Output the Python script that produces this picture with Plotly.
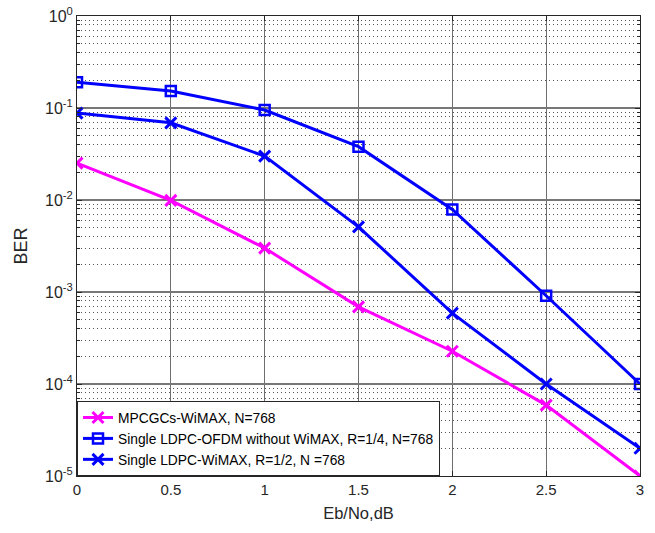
import plotly.graph_objects as go

ebno = [0, 0.5, 1, 1.5, 2, 2.5, 3]
ber_mpcgc = [0.0252, 0.0099, 0.0030, 0.00069, 0.000227, 0.000059, 0.00001]
ber_ofdm = [0.19, 0.153, 0.095, 0.038, 0.0079, 0.00091, 0.0001]
ber_ldpc = [0.088, 0.069, 0.030, 0.0051, 0.00059, 0.0001, 0.00002]

x_ticks = [0, 0.5, 1, 1.5, 2, 2.5, 3]
x_ticktext = ["0", "0.5", "1", "1.5", "2", "2.5", "3"]
y_ticks = [1e-5, 1e-4, 1e-3, 1e-2, 1e-1, 1]
y_ticktext = ["10<sup>-5</sup>", "10<sup>-4</sup>", "10<sup>-3</sup>",
              "10<sup>-2</sup>", "10<sup>-1</sup>", "10<sup>0</sup>"]

names = ["MPCGCs-WiMAX, N=768",
         "Single LDPC-OFDM without WiMAX, R=1/4, N=768",
         "Single LDPC-WiMAX, R=1/2, N =768"]

fig = go.Figure()
fig.add_trace(go.Scatter(x=ebno, y=ber_mpcgc, name=names[0], mode="lines+markers",
                         line=dict(color="#FF00FF", width=3),
                         marker=dict(symbol="x-thin", size=11, line=dict(color="#FF00FF", width=3))))
fig.add_trace(go.Scatter(x=ebno, y=ber_ofdm, name=names[1], mode="lines+markers",
                         line=dict(color="#0000FF", width=3),
                         marker=dict(symbol="square-open", size=10, color="#0000FF", line=dict(width=2.5))))
fig.add_trace(go.Scatter(x=ebno, y=ber_ldpc, name=names[2], mode="lines+markers",
                         line=dict(color="#0000FF", width=3),
                         marker=dict(symbol="x-thin", size=11, line=dict(color="#0000FF", width=3))))

fig.update_layout(
    width=655, height=533,
    margin=dict(l=77, r=15, t=16, b=57),
    paper_bgcolor="white", plot_bgcolor="white",
    font=dict(family="Liberation Sans, Arial", size=15, color="#262626"),
    showlegend=True,
    legend=dict(x=0, y=0, xanchor="left", yanchor="bottom",
                bgcolor="white", bordercolor="#262626", borderwidth=1,
                font=dict(size=13.8, color="#000000"), tracegroupgap=0,
                itemwidth=30),
)
fig.update_xaxes(range=[0, 3], tickvals=x_ticks, ticktext=x_ticktext, automargin=False,
                 showline=True, linecolor="#262626", linewidth=1, mirror="ticks",
                 ticks="inside", ticklen=5, tickcolor="#262626",
                 showgrid=True, gridcolor="#6e6e6e", gridwidth=1,
                 zeroline=False, tickfont=dict(size=15),
                 title=dict(text="Eb/No,dB", font=dict(size=16.5), standoff=10))
fig.update_yaxes(type="log", range=[-5, 0], tickvals=y_ticks, ticktext=y_ticktext, automargin=False,
                 showline=True, linecolor="#262626", linewidth=1, mirror="ticks",
                 ticks="inside", ticklen=5, tickcolor="#262626",
                 showgrid=True, gridcolor="#777777", gridwidth=1.5,
                 zeroline=False, tickfont=dict(size=16),
                 minor=dict(dtick="D1", showgrid=True, gridcolor="#555555", griddash="1px,3px",
                            gridwidth=1, ticks="inside", ticklen=3, tickcolor="#262626"),
                 title=dict(text="BER", font=dict(size=18), standoff=12))

fig.write_html("out.html", config={"displayModeBar": False},
               post_script="document.body.style.margin='0';document.body.style.overflow='hidden';")
